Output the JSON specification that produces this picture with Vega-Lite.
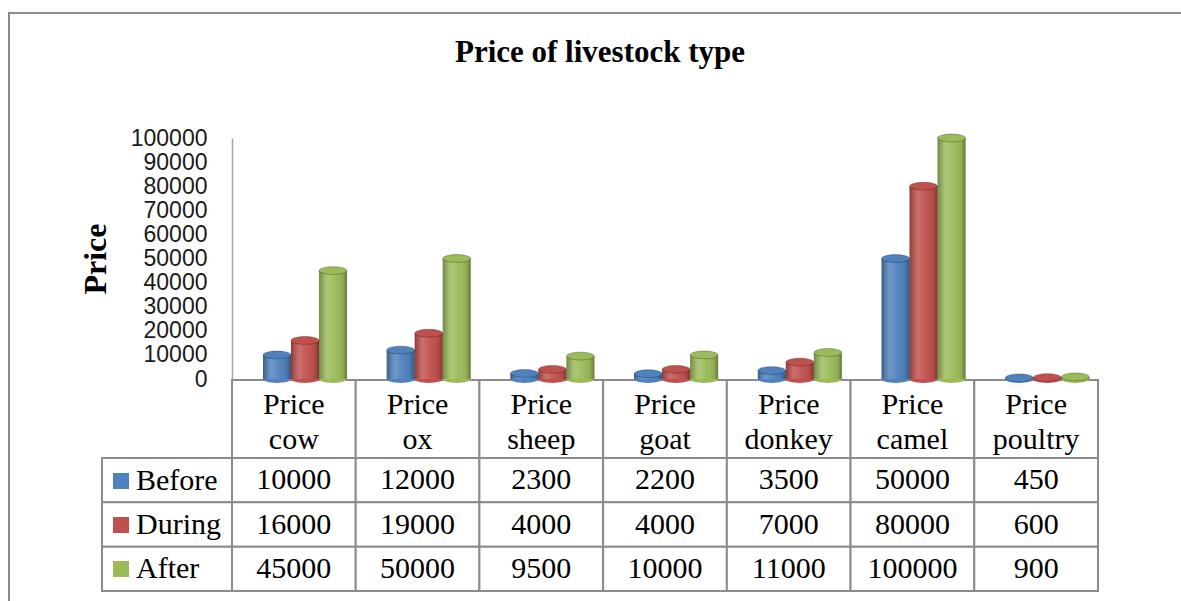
{
  "$schema": "https://vega.github.io/schema/vega-lite/v6.json",
  "width": 1176,
  "height": 592,
  "autosize": {"type": "none"},
  "padding": {"left": 9, "top": 13, "right": -4, "bottom": -4},
  "background": "white",
  "title": {
    "text": "Price of livestock type",
    "font": "Times New Roman, Liberation Serif, serif",
    "fontSize": 31,
    "fontWeight": "bold",
    "color": "black",
    "anchor": "middle",
    "frame": "group",
    "offset": -80,
    "baseline": "alphabetic",
    "dx": 3
  },
  "config": {
    "view": {"stroke": "#8c8c8c", "strokeWidth": 2},
    "text": {"font": "Times New Roman, Liberation Serif, serif"}
  },
  "datasets": {
    "prices": [
      {"animal": "Price cow", "series": "Before", "price": 10000},
      {"animal": "Price cow", "series": "During", "price": 16000},
      {"animal": "Price cow", "series": "After", "price": 45000},
      {"animal": "Price ox", "series": "Before", "price": 12000},
      {"animal": "Price ox", "series": "During", "price": 19000},
      {"animal": "Price ox", "series": "After", "price": 50000},
      {"animal": "Price sheep", "series": "Before", "price": 2300},
      {"animal": "Price sheep", "series": "During", "price": 4000},
      {"animal": "Price sheep", "series": "After", "price": 9500},
      {"animal": "Price goat", "series": "Before", "price": 2200},
      {"animal": "Price goat", "series": "During", "price": 4000},
      {"animal": "Price goat", "series": "After", "price": 10000},
      {"animal": "Price donkey", "series": "Before", "price": 3500},
      {"animal": "Price donkey", "series": "During", "price": 7000},
      {"animal": "Price donkey", "series": "After", "price": 11000},
      {"animal": "Price camel", "series": "Before", "price": 50000},
      {"animal": "Price camel", "series": "During", "price": 80000},
      {"animal": "Price camel", "series": "After", "price": 100000},
      {"animal": "Price poultry", "series": "Before", "price": 450},
      {"animal": "Price poultry", "series": "During", "price": 600},
      {"animal": "Price poultry", "series": "After", "price": 900}
    ],
    "animals": [
      {"animal": "Price cow"},
      {"animal": "Price ox"},
      {"animal": "Price sheep"},
      {"animal": "Price goat"},
      {"animal": "Price donkey"},
      {"animal": "Price camel"},
      {"animal": "Price poultry"}
    ]
  },
  "layer": [
    {
      "data": {"name": "prices"},
      "transform": [{"filter": "datum.animal === 'Price cow'"}],
      "mark": {"type": "rect", "fill": "white", "stroke": "#8c8c8c", "strokeWidth": 2},
      "encoding": {
        "x": {
          "datum": "rowhdr", "type": "nominal",
          "scale": {"domain": ["rowhdr"], "range": [93, 223], "paddingInner": 0, "paddingOuter": 0},
          "axis": null
        },
        "y": {
          "field": "series", "type": "nominal", "sort": null,
          "scale": {"domain": ["Before", "During", "After"], "range": [445, 578], "paddingInner": 0, "paddingOuter": 0},
          "axis": null
        }
      }
    },
    {
      "data": {"name": "prices"},
      "encoding": {
        "x": {
          "field": "animal", "type": "nominal", "sort": null,
          "scale": {"domain": ["Price cow", "Price ox", "Price sheep", "Price goat", "Price donkey", "Price camel", "Price poultry"], "range": [223, 1089], "paddingInner": 0, "paddingOuter": 0},
          "axis": null
        },
        "y": {
          "field": "series", "type": "nominal", "sort": null,
          "scale": {"domain": ["Before", "During", "After"], "range": [445, 578], "paddingInner": 0, "paddingOuter": 0},
          "axis": null
        }
      },
      "layer": [
        {"mark": {"type": "rect", "fill": "white", "stroke": "#8c8c8c", "strokeWidth": 2}},
        {
          "mark": {"type": "text", "font": "Times New Roman, Liberation Serif, serif", "fontSize": 30, "color": "black", "baseline": "middle"},
          "encoding": {"text": {"field": "price", "type": "quantitative", "format": "d"}}
        }
      ]
    },
    {
      "data": {"name": "animals"},
      "encoding": {
        "x": {
          "field": "animal", "type": "nominal", "sort": null,
          "scale": {"domain": ["Price cow", "Price ox", "Price sheep", "Price goat", "Price donkey", "Price camel", "Price poultry"], "range": [223, 1089], "paddingInner": 0, "paddingOuter": 0},
          "axis": null
        },
        "y": {
          "datum": "hdr", "type": "nominal",
          "scale": {"domain": ["hdr"], "range": [367, 445], "paddingInner": 0, "paddingOuter": 0},
          "axis": null
        }
      },
      "layer": [
        {"mark": {"type": "rect", "fill": "white", "stroke": "#8c8c8c", "strokeWidth": 2}},
        {
          "mark": {"type": "text", "font": "Times New Roman, Liberation Serif, serif", "fontSize": 30, "color": "black", "baseline": "middle", "lineBreak": " ", "lineHeight": 35, "dy": -14},
          "encoding": {"text": {"field": "animal", "type": "nominal"}}
        }
      ]
    },
    {
      "data": {"name": "prices"},
      "encoding": {
        "x": {
          "field": "animal", "type": "nominal", "sort": null,
          "scale": {"domain": ["Price cow", "Price ox", "Price sheep", "Price goat", "Price donkey", "Price camel", "Price poultry"], "range": [223, 1089], "paddingInner": 0, "paddingOuter": 0},
          "axis": null
        },
        "xOffset": {
          "field": "series", "type": "nominal", "sort": null,
          "scale": {"domain": ["Before", "During", "After"], "paddingInner": 0, "paddingOuter": 0.709, "align": 0.78}
        },
        "y": {
          "field": "price", "type": "quantitative",
          "scale": {"domain": [0, 100000], "range": [366, 125], "nice": false, "zero": true},
          "axis": {
            "orient": "left", "offset": -223,
            "values": [0, 10000, 20000, 30000, 40000, 50000, 60000, 70000, 80000, 90000, 100000],
            "format": "d", "labelFont": "Liberation Sans", "labelFontSize": 23, "labelColor": "#1a1a1a",
            "labelPadding": 25, "ticks": false, "grid": false, "labelFlush": false, "labelOverlap": false,
            "domainColor": "#a6a6a6", "domainWidth": 1.5,
            "title": "Price", "titleFont": "Times New Roman, Liberation Serif, serif", "titleFontSize": 32, "titleFontWeight": "bold",
            "titleColor": "black", "titlePadding": 18
          }
        }
      },
      "layer": [
        {
          "mark": {"type": "point", "shape": "M-1,0A1,0.28,0,1,1,1,0A1,0.28,0,1,1,-1,0Z", "size": 784, "filled": true, "opacity": 1, "strokeWidth": 0},
          "encoding": {
            "y": {"datum": 0, "type": "quantitative"},
            "color": {"field": "series", "type": "nominal", "scale": {"domain": ["Before", "During", "After"], "range": ["#4f81bd", "#c0504d", "#9bbb59"]}}
          }
        },
        {
          "mark": {"type": "bar"},
          "encoding": {
            "color": {
              "field": "series", "type": "nominal",
              "scale": {"domain": ["Before", "During", "After"], "range": ["#4f81bd", "#c0504d", "#9bbb59"]},
              "legend": {
                "orient": "none", "legendX": 97, "legendY": 453, "title": null,
                "symbolType": "square", "symbolSize": 256, "symbolStrokeWidth": 0, "symbolOpacity": 1,
                "labelFont": "Times New Roman, Liberation Serif, serif", "labelFontSize": 30, "labelColor": "black",
                "labelOffset": 0, "rowPadding": 14, "padding": 0, "labelLimit": 300
              }
            }
          }
        },
        {
          "mark": {
            "type": "bar",
            "fill": {
              "gradient": "linear", "x1": 0, "y1": 0, "x2": 1, "y2": 0,
              "stops": [
                {"offset": 0, "color": "rgba(0,0,0,0.28)"},
                {"offset": 0.3, "color": "rgba(255,255,255,0.18)"},
                {"offset": 0.55, "color": "rgba(255,255,255,0.05)"},
                {"offset": 0.85, "color": "rgba(0,0,0,0.08)"},
                {"offset": 1, "color": "rgba(0,0,0,0.35)"}
              ]
            }
          }
        },
        {
          "mark": {"type": "point", "shape": "M-1,0A1,0.28,0,1,1,1,0A1,0.28,0,1,1,-1,0Z", "size": 784, "filled": true, "opacity": 1, "stroke": "rgba(0,0,0,0.25)", "strokeWidth": 1},
          "encoding": {
            "color": {"field": "series", "type": "nominal", "scale": {"domain": ["Before", "During", "After"], "range": ["#4f81bd", "#c0504d", "#9bbb59"]}}
          }
        }
      ]
    }
  ],
  "resolve": {
    "scale": {"x": "independent", "y": "independent"},
    "axis": {"x": "independent", "y": "independent"}
  }
}
